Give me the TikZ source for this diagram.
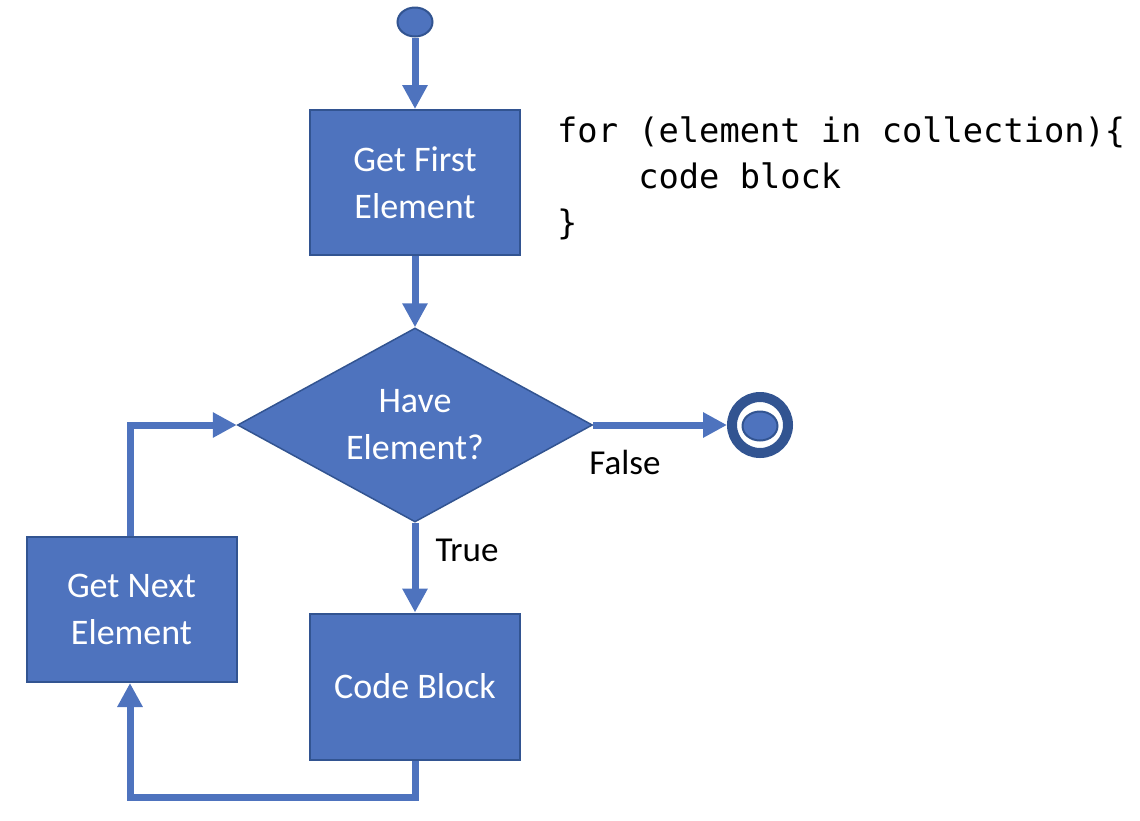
\documentclass[tikz,border=0pt]{standalone}
\usepackage{fontspec}
\setmainfont{Carlito}
\newfontfamily\codefont{DejaVu Sans Mono}
\definecolor{officeblue}{RGB}{78,115,190}
\definecolor{edgeblue}{RGB}{50,84,145}
\usetikzlibrary{arrows.meta,shapes.geometric}
\tikzset{
  procbox/.style={rectangle,draw=edgeblue,line width=2pt,fill=officeblue,
                  text=white,minimum width=210pt,minimum height=145pt,
                  align=center,inner sep=0pt,font=\fontsize{36}{47}\selectfont},
  decision/.style={diamond,aspect=1.83,draw=edgeblue,line width=1.5pt,
                   fill=officeblue,text=white,minimum width=355pt,
                   minimum height=194pt,align=center,inner sep=0pt,
                   font=\fontsize{36}{47}\selectfont},
  startdot/.style={ellipse,draw=edgeblue,line width=2pt,fill=officeblue,
                   minimum width=35pt,minimum height=29pt,inner sep=0pt},
  stopring/.style={circle,draw=edgeblue,line width=10pt,minimum size=56pt,
                   inner sep=0pt},
  flow/.style={draw=officeblue,line width=7pt,
               -{Triangle[width=24pt,length=24pt]}},
  flowlabel/.style={text=black,inner sep=0pt,font=\fontsize{35}{42}\selectfont},
}

\begin{document}
\begin{tikzpicture}[x=1pt,y=-1pt]
  \useasboundingbox (0,0) rectangle (1140,820);
  % shapes
  \node[startdot] (start) at (415,22) {};
  \node[procbox] (first) at (415,182.5) {Get First\\Element};
  \node[decision] (have) at (415,425) {Have\\Element?};
  \node[procbox,minimum height=146pt] (block) at (415,686.5) {Code Block};
  \node[procbox] (next) at (131.5,609.5) {Get Next\\Element};
  \node[stopring] (done) at (760,425) {};
  \node[startdot] (donedot) at (760,426) {};
  % code on the right
  \node[anchor=west,align=left,inner sep=0pt,
        font=\codefont\fontsize{33.7}{46}\selectfont] (code) at (557,178)
    {for (element in collection)\{\\\hphantom{for }code block\\\}};
  % connectors
  \draw[flow] (start) -- (first);
  \draw[flow] (first) -- (have);
  \draw[flow] (have.east) -- (done.west);
  \draw[flow] (have.south) -- (block.north);
  \draw[flow] (block.south) -- ++(0,37) -| (next.south -| 130,0);
  \draw[flow] (next.north -| 130,0) |- (have.west);
  \node[flowlabel] (lfalse) at (625,462) {False};
  \node[flowlabel] (ltrue) at (467,550) {True};
\end{tikzpicture}
\end{document}
